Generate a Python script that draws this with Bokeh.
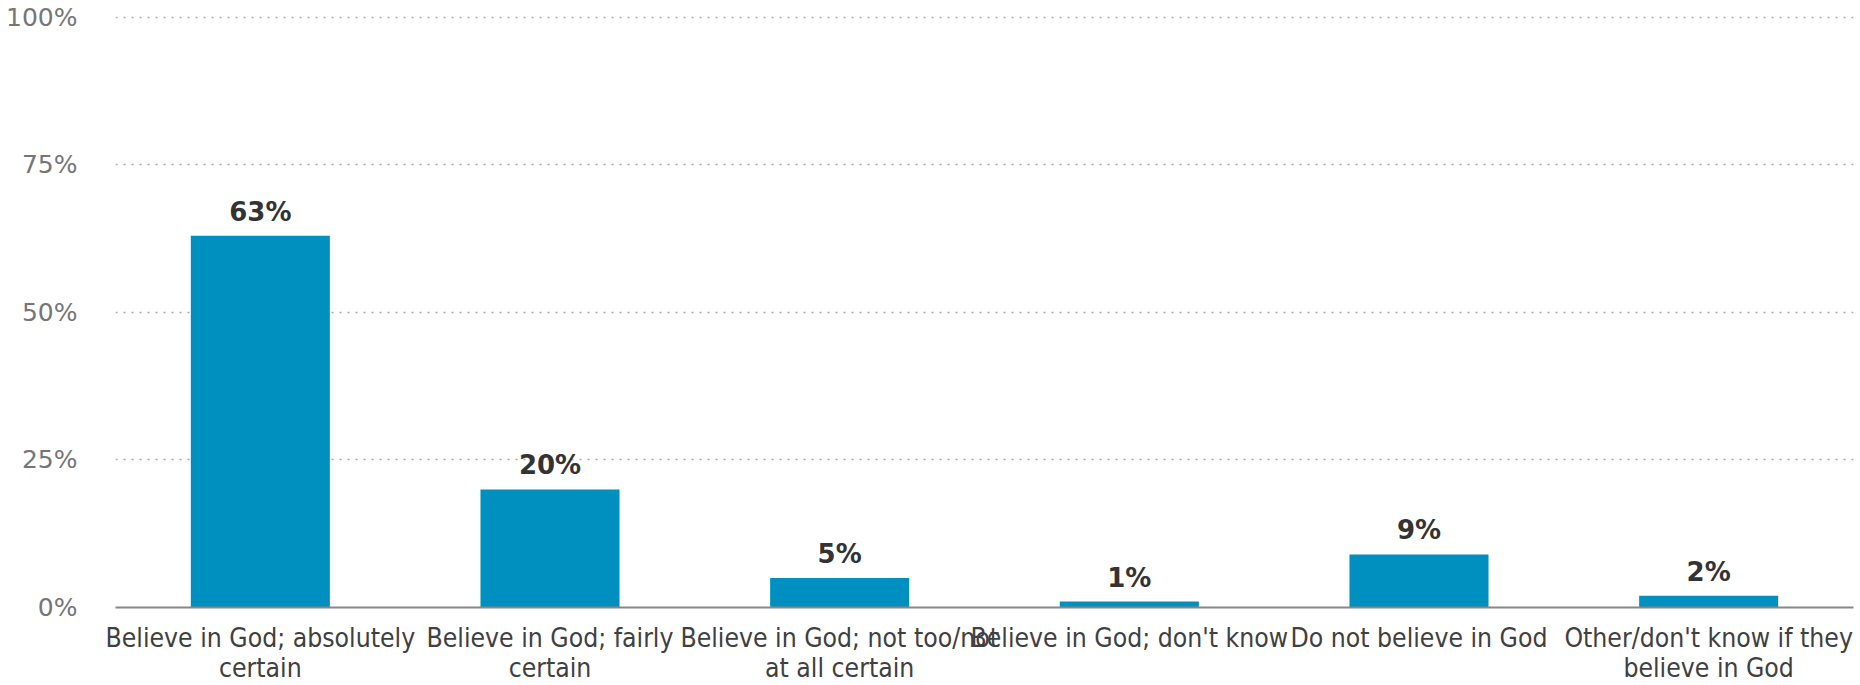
from bokeh.plotting import figure
from bokeh.models import ColumnDataSource, FixedTicker, PrintfTickFormatter, Range1d
from bokeh.core.properties import value
from bokeh.embed import file_html
from bokeh.resources import INLINE

categories = [
    "Believe in God; absolutely\ncertain",
    "Believe in God; fairly\ncertain",
    "Believe in God; not too/not\nat all certain",
    "Believe in God; don't know",
    "Do not believe in God",
    "Other/don't know if they\nbelieve in God",
]
values = [63, 20, 5, 1, 9, 2]
value_labels = ["63%", "20%", "5%", "1%", "9%", "2%"]
y_ticks = [0, 25, 50, 75, 100]

source = ColumnDataSource(data=dict(cat=categories, val=values, lab=value_labels))

p = figure(
    x_range=categories,
    y_range=Range1d(0, 102),
    width=1860,
    height=685,
    min_border_left=115,
    min_border_right=7,
    min_border_top=5,
    min_border_bottom=0,
    output_backend="svg",
    toolbar_location=None,
    background_fill_color="white",
    border_fill_color="white",
)
p.outline_line_color = None

p.vbar(x="cat", top="val", width=0.48, source=source, color="#0090c0", line_color=None)

p.text(
    x="cat", y="val", text="lab", source=source,
    text_align="center", text_baseline="alphabetic", y_offset=-24,
    text_font=value("DejaVu Sans"), text_font_style="bold",
    text_font_size="26px", text_color="#333333",
)

# grid
p.xgrid.grid_line_color = None
p.ygrid.ticker = FixedTicker(ticks=y_ticks[1:])
p.ygrid.grid_line_color = "#aaaaaa"
p.ygrid.grid_line_dash = "2 6"
p.ygrid.grid_line_width = 1.5

# y axis
yax = p.yaxis[0]
yax.ticker = FixedTicker(ticks=y_ticks)
yax.formatter = PrintfTickFormatter(format="%d%%")
yax.axis_line_color = None
yax.major_tick_line_color = None
yax.minor_tick_line_color = None
yax.major_label_standoff = 32
yax.major_label_text_font = "DejaVu Sans"
yax.major_label_text_font_size = "18.75pt"
yax.major_label_text_color = "#767676"

# x axis
xax = p.xaxis[0]
xax.axis_line_color = "#888888"
xax.axis_line_width = 2
xax.major_tick_line_color = None
xax.minor_tick_line_color = None
xax.major_label_standoff = 9
xax.major_label_text_font = "DejaVu Sans Condensed"
xax.major_label_text_font_size = "19.75pt"
xax.major_label_text_color = "#404040"
xax.major_label_text_line_height = 1.0

open("out.html", "w").write(file_html(p, INLINE))
